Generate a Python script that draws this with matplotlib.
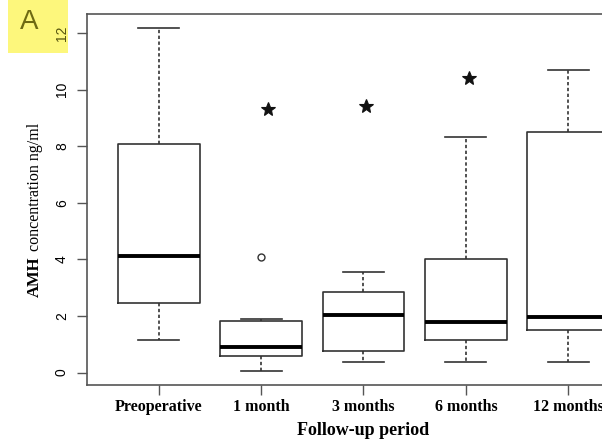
import matplotlib
matplotlib.use("Agg")
import matplotlib.pyplot as plt
from matplotlib.patches import Rectangle

categories = ["Preoperative", "1 month", "3 months", "6 months", "12 months"]
whisker_low = [1.15, 0.07, 0.38, 0.38, 0.38]
q1 = [2.45, 0.59, 0.78, 1.15, 1.49]
median = [4.13, 0.90, 2.03, 1.80, 1.97]
q3 = [8.08, 1.83, 2.86, 4.03, 8.50]
whisker_high = [12.18, 1.89, 3.55, 8.32, 10.69]
outliers = [[], [4.08], [], [], []]
star_x = [2.07, 3.02, 4.03]
star_y = [9.31, 9.44, 10.42]
yticks = [0, 2, 4, 6, 8, 10, 12]

fig = plt.figure(figsize=(6.02, 4.41), dpi=100)

# background panel label highlight
bg = fig.add_axes([0, 0, 1, 1], zorder=-1)
bg.set_xlim(0, 602)
bg.set_ylim(441, 0)
bg.axis("off")
bg.add_patch(Rectangle((8, 0), 60, 53, facecolor="#FDF77C", edgecolor="none"))
bg.text(29, 22, "A", ha="center", va="center", fontsize=20,
        color="#6E6A12", family="Liberation Sans")

ax = fig.add_axes([87/602, 56/441, (640-87)/602, (385-14)/441])
ax.patch.set_alpha(0)

stats = []
for i, c in enumerate(categories):
    stats.append(dict(label=c, whislo=whisker_low[i], q1=q1[i], med=median[i],
                      q3=q3[i], whishi=whisker_high[i], fliers=outliers[i]))

line = "#333333"
ax.bxp(stats, positions=range(1, len(categories) + 1), widths=0.8,
       boxprops=dict(color=line, lw=1.2),
       whiskerprops=dict(color=line, lw=1.2, linestyle=(0, (2, 1.5))),
       capprops=dict(color=line, lw=1.2),
       medianprops=dict(color="black", lw=2.8),
       flierprops=dict(marker="o", markerfacecolor="none", markeredgecolor=line,
                       markersize=5, markeredgewidth=1.0),
       capwidths=0.4, manage_ticks=False)

ax.plot(star_x, star_y, linestyle="none", marker="*", markersize=10,
        color="#111111", markeredgewidth=0.8)

ax.set_xlim(0.3, 5.7)
ax.set_ylim(-0.44, 12.68)
ax.set_xticks(range(1, len(categories) + 1))
ax.set_xticklabels(categories, family="Liberation Serif", fontweight="bold", fontsize=11.5)
ax.set_yticks(yticks)
ax.set_yticklabels([str(v) for v in yticks], rotation=90, va="center",
                   family="Liberation Sans", fontsize=10)
ax.tick_params(axis="both", length=7, width=1.0, color="#555555")
ax.tick_params(axis="x", pad=3)
ax.tick_params(axis="y", pad=6)
ax.get_yticklabels()[-1].set_color("#55530F")
for s in ax.spines.values():
    s.set_color("#555555")
    s.set_linewidth(1.2)

ax.set_xlabel("Follow-up period", family="Liberation Serif", fontweight="bold",
              fontsize=13, labelpad=5)
fig.text(35/602, 1 - 297/441, "AMH", rotation=90, ha="center", va="bottom",
         family="Liberation Serif", fontweight="bold", fontsize=12)
fig.text(35/602, 1 - 251/441, "concentration ng/ml", rotation=90, ha="center",
         va="bottom", family="Liberation Serif", fontsize=11.5)

fig.savefig("out.png", dpi=100)
